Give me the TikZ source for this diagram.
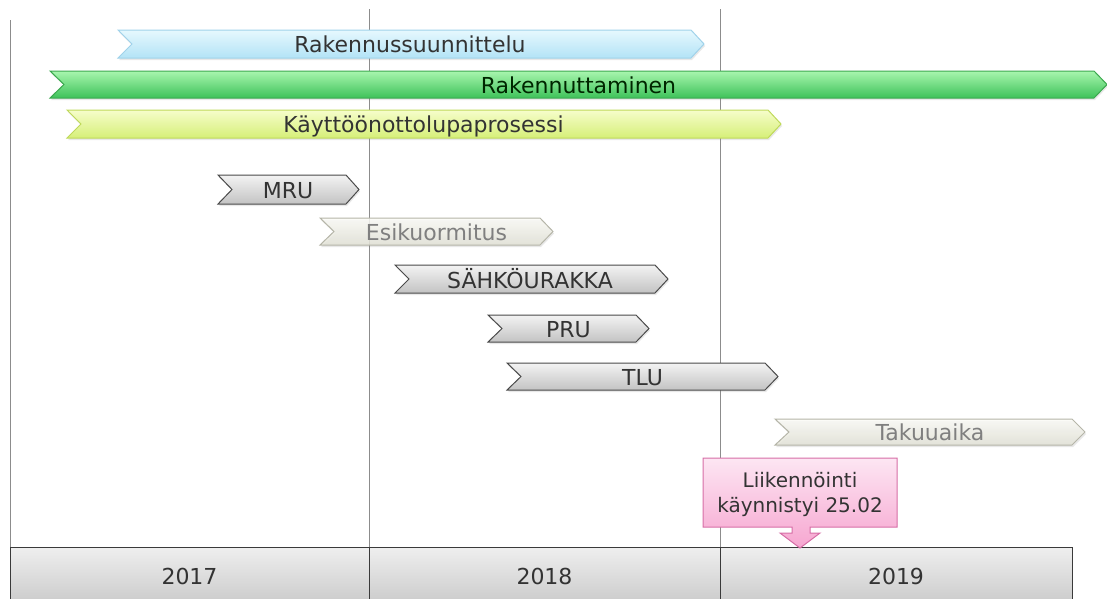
\documentclass[tikz,border=0pt]{standalone}
\usepackage{fontspec}
\setmainfont{DejaVu Sans}
\usetikzlibrary{shadows}
\definecolor{txt}{HTML}{333333}
\definecolor{txtlight}{HTML}{7F7F7F}
\definecolor{gridc}{HTML}{8C8C8C}
\definecolor{bluetop}{HTML}{E6F8FE}
\definecolor{bluebot}{HTML}{B3E3F6}
\definecolor{blueline}{HTML}{A0D2EA}
\definecolor{greentop}{HTML}{A8F6AE}
\definecolor{greenbot}{HTML}{3EC25A}
\definecolor{greenline}{HTML}{3CA84F}
\definecolor{yeltop}{HTML}{F6FDCB}
\definecolor{yelbot}{HTML}{D6EF78}
\definecolor{yelline}{HTML}{BFD95A}
\definecolor{graytop}{HTML}{F3F3F3}
\definecolor{graybot}{HTML}{C3C3C3}
\definecolor{grayline}{HTML}{4A4A4A}
\definecolor{creamtop}{HTML}{FBFBF7}
\definecolor{creambot}{HTML}{E2E2D6}
\definecolor{creamline}{HTML}{B5B5A8}
\definecolor{pinktop}{HTML}{FDE6F3}
\definecolor{pinkbot}{HTML}{F6A6D0}
\definecolor{pinkline}{HTML}{D66EA6}
\definecolor{yeartop}{HTML}{EFEFEF}
\definecolor{yearbot}{HTML}{CDCDCD}
\definecolor{yearline}{HTML}{3A3A3A}
\tikzset{
  chevbase/.style={line width=1pt, line join=miter,
    drop shadow={opacity=0.18, shadow xshift=1pt, shadow yshift=-2pt}},
  bluechev/.style={chevbase, draw=blueline, top color=bluetop, bottom color=bluebot},
  greenchev/.style={chevbase, draw=greenline, top color=greentop, bottom color=greenbot},
  yelchev/.style={chevbase, draw=yelline, top color=yeltop, bottom color=yelbot},
  graychev/.style={chevbase, draw=grayline, top color=graytop, bottom color=graybot},
  creamchev/.style={chevbase, draw=creamline, top color=creamtop, bottom color=creambot, fill opacity=0.85},
  lbl/.style={inner sep=0pt, text height=16pt, text depth=0pt, text=txt,
    font=\fontsize{22}{26}\selectfont},
  lbllight/.style={lbl, text=txtlight},
  gridline/.style={draw=gridc, line width=1pt},
  yearcell/.style={draw=yearline, line width=1pt, top color=yeartop, bottom color=yearbot},
  callout/.style={draw=pinkline, line width=1pt, top color=pinktop, bottom color=pinkbot, line join=miter}
}
% #1 x0, #2 x1, #3 ytop, #4 ybot, #5 style
\newcommand{\chevshape}[5]{%
  \path[#5] (#1,#3) -- ({#2-13},#3) -- (#2,{(#3+#4)/2}) -- ({#2-13},#4) -- (#1,#4) -- ({#1+14},{(#3+#4)/2}) -- cycle;}
\begin{document}
\begin{tikzpicture}[x=1pt,y=-1pt]
\useasboundingbox (0,0) rectangle (1107,598);
% grid lines
\coordinate (g0t) at (10,20);  \coordinate (g0b) at (10,547);
\coordinate (g1t) at (369,9);  \coordinate (g1b) at (369,598);
\coordinate (g2t) at (720,9);  \coordinate (g2b) at (720,598);
\draw[gridline] (g0t) -- (g0b);
\draw[gridline] (g1t) -- (g1b);
\draw[gridline] (g2t) -- (g2b);
% year bar
\path[yearcell] (10,547) rectangle (369,600);
\path[yearcell] (369,547) rectangle (720,600);
\path[yearcell] (720,547) rectangle (1072,600);
\node[lbl] (y2017) at (189.5,576) {2017};
\node[lbl] (y2018) at (544.5,576) {2018};
\node[lbl] (y2019) at (896,576) {2019};
% chevrons
\chevshape{118}{704}{30}{58}{bluechev}
\node[lbl] (rs) at (410,44.5) {Rakennussuunnittelu};
\chevshape{50}{1107}{71}{98}{greenchev}
\node[lbl, text=black!85!green] (rt) at (578.5,85) {Rakennuttaminen};
\chevshape{67}{781}{110}{138}{yelchev}
\node[lbl] (kp) at (423.5,124.5) {Käyttöönottolupaprosessi};
\chevshape{218}{359}{175}{204}{graychev}
\node[lbl] (mru) at (288,190) {MRU};
\chevshape{320}{553}{218}{245}{creamchev}
\node[lbllight] (esi) at (436.5,232) {Esikuormitus};
\chevshape{395}{668}{265}{293}{graychev}
\node[lbl] (sah) at (530,280) {SÄHKÖURAKKA};
\chevshape{488}{649}{315}{342}{graychev}
\node[lbl] (pru) at (568.5,329) {PRU};
\chevshape{507}{778}{363}{390}{graychev}
\node[lbl] (tlu) at (642.5,377) {TLU};
\chevshape{775}{1085}{419}{445}{creamchev}
\node[lbllight] (tak) at (930,432.5) {Takuuaika};
% callout
\path[callout] (703,458) -- (897,458) -- (897,527) -- (810,527) -- (810,533) -- (820,533)
  -- (800,548) -- (780,533) -- (792,533) -- (792,527) -- (703,527) -- cycle;
\node[inner sep=0pt, align=center, text=txt, font=\fontsize{20}{25}\selectfont] (lk) at (800,494)
  {Liikennöinti\\käynnistyi 25.02};
\end{tikzpicture}
\end{document}
